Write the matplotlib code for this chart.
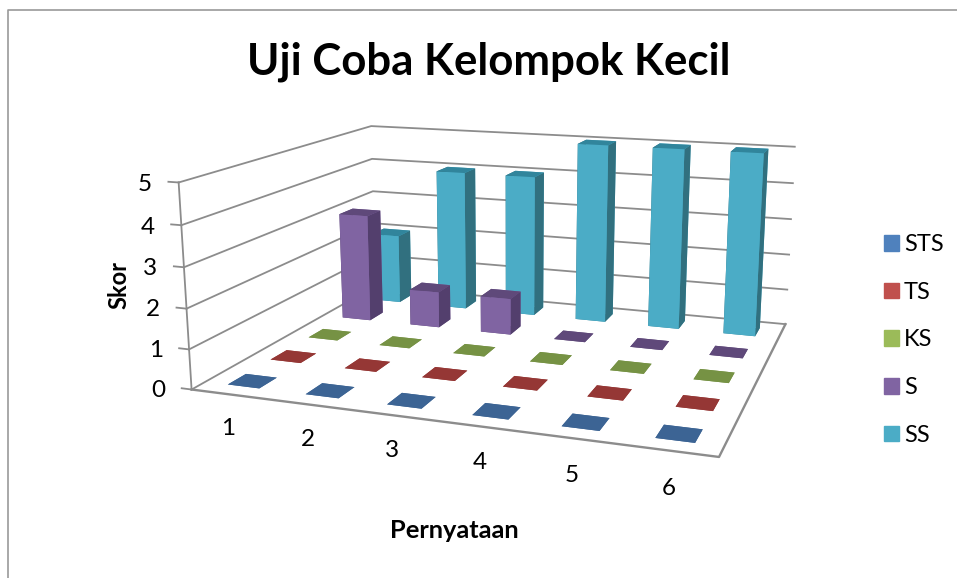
import numpy as np
import matplotlib
matplotlib.use("Agg")
import matplotlib.pyplot as plt
from matplotlib.patches import Patch
from matplotlib.lines import Line2D
from mpl_toolkits.mplot3d import proj3d

categories = ["1", "2", "3", "4", "5", "6"]
series_names = ["STS", "TS", "KS", "S", "SS"]
sts = [0, 0, 0, 0, 0, 0]
ts = [0, 0, 0, 0, 0, 0]
ks = [0, 0, 0, 0, 0, 0]
s_vals = [3, 1, 1, 0, 0, 0]
ss = [2, 4, 4, 5, 5, 5]
z_ticks = [0, 1, 2, 3, 4, 5]

front_colors = ["#4F81BD", "#C0504D", "#9BBB59", "#8064A2", "#4BACC6"]
top_colors = ["#3C6494", "#953735", "#769244", "#5F497A", "#31859C"]
side_colors = ["#2F4E75", "#772C2A", "#5E7535", "#533F6D", "#31707F"]

W, H = 957, 578
plt.rcParams["font.family"] = ["Lato", "DejaVu Sans"]
fig = plt.figure(figsize=(W / 100, H / 100), dpi=100)

# camera values were fitted to the corners of the original box
L, left, bottom = 648.20, 179.51, -15.25
ax = fig.add_axes([left / W, bottom / H, L / W, L / H], projection="3d")
ax.set_xlim(0, 6)
ax.set_ylim(0, 5)
ax.set_zlim(0, 5)
ax.set_proj_type("persp", focal_length=0.3648)
ax.view_init(elev=13.652, azim=-70.714)
ax.set_box_aspect((1, 0.8095, 0.3964), zoom=1)
ax.set_axis_off()
ax.computed_zorder = False

bar_w, bar_d = 0.41, 0.41
xs, ys, dz, colors = [], [], [], []
values = [sts, ts, ks, s_vals, ss]
for j, vals in enumerate(values):
    for i, v in enumerate(vals):
        xs.append(i + 0.5 - bar_w / 2)
        ys.append(j + 0.5 - bar_d / 2)
        dz.append(v)
        colors += [top_colors[j], top_colors[j], front_colors[j], front_colors[j], side_colors[j], side_colors[j]]

grid = "#8C8C8C"
for z in z_ticks:
    ax.plot([0, 0, 6], [0, 5, 5], [z, z, z], color=grid, lw=1.3, zorder=1, clip_on=False)
    ax.plot([-0.13, 0], [0, 0], [z, z], color=grid, lw=1.3, zorder=1, clip_on=False)
ax.plot([0, 0], [0, 0], [0, 5], color=grid, lw=1.3, zorder=1, clip_on=False)
ax.plot([0, 6, 6], [0, 0, 5], [0, 0, 0], color=grid, lw=1.7, zorder=1, clip_on=False)
bars = ax.bar3d(xs, ys, np.zeros(len(xs)), bar_w, bar_d, dz, color=colors, shade=False, zorder=2)
bars.set_clip_on(False)

fig.canvas.draw()


# tick labels go on the figure, at the projected spot of a 3d point
def label_at(x, y, z, txt, ha):
    x2, y2, _ = proj3d.proj_transform(x, y, z, ax.get_proj())
    px = ax.transData.transform((x2, y2))
    fig.text(px[0] / W, px[1] / H, txt, ha=ha, va="center", fontsize=17.5)


for z in z_ticks:
    label_at(-0.35, 0, z - 0.1, str(z), "right")
for i, c in enumerate(categories):
    label_at(i + 0.54, -0.15, -0.72, c, "center")

fig.text(489 / W, 1 - 62 / H, "Uji Coba Kelompok Kecil", ha="center", va="center", fontsize=31.5, fontweight="bold")
fig.text(119 / W, 1 - 285 / H, "Skor", rotation=90, ha="center", va="center", fontsize=17, fontweight="bold")
fig.text(454 / W, 1 - 531 / H, "Pernyataan", ha="center", va="center", fontsize=18.3, fontweight="bold")

handles = [Patch(color=c) for c in front_colors]
fig.legend(handles, series_names, loc="center left", bbox_to_anchor=(884 / W, 1 - 340 / H), frameon=False,
           fontsize=17, handlelength=0.64, handleheight=0.64, labelspacing=1.13, handletextpad=0.2,
           borderpad=0, borderaxespad=0)

fig.add_artist(Line2D([8 / W, 8 / W, 1], [0, 1 - 10 / H, 1 - 10 / H], color="#9A9A9A", lw=1.2))
fig.savefig("out.png", dpi=100)
